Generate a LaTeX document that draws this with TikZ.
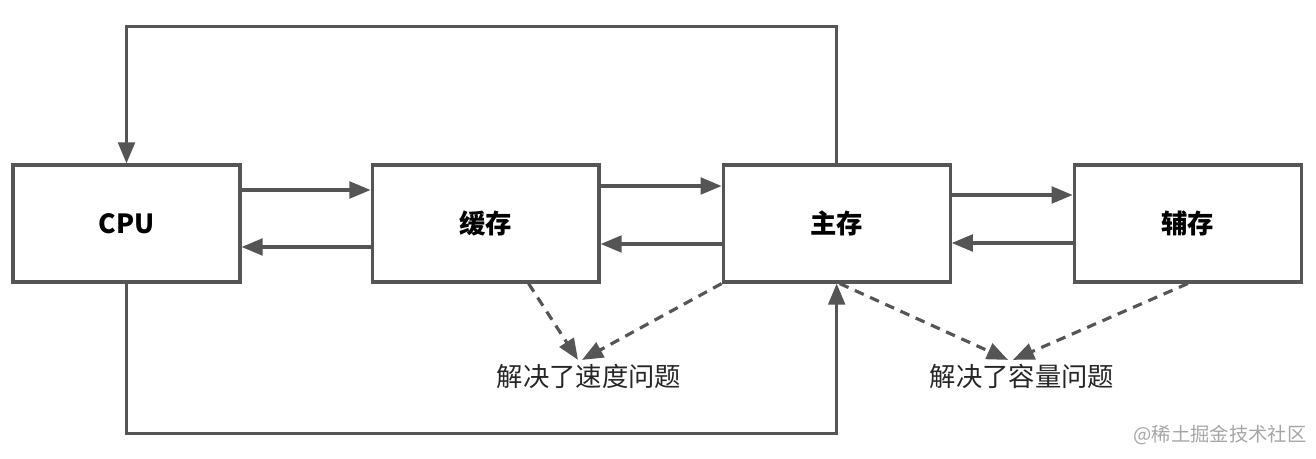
\documentclass[tikz,border=0pt]{standalone}
\usepackage{fontspec}
\setmainfont{Noto Sans CJK SC}
\usetikzlibrary{positioning,arrows.meta}
\definecolor{linegray}{HTML}{555555}

\begin{document}
\begin{tikzpicture}[
  x=0.02cm, y=-0.02cm,
  font=\fontsize{15}{18}\selectfont,
  node distance=2.42cm,
  mbox/.style={draw=linegray, line width=1.8pt, minimum width=4.54cm, minimum height=2.34cm, inner sep=0pt, font=\fontsize{15}{18}\selectfont\bfseries},
  marr/.style={-{Triangle[length=12pt,width=9.5pt]}, line width=1.8pt, draw=linegray},
  darr/.style={marr, dash pattern=on 5.5pt off 4pt},
  note/.style={inner sep=2pt, text=black!85}
]
  \useasboundingbox (0,0) rectangle (1316,459);

  \node[mbox] (cpu) at (126.5,223.5) {CPU};
  \node[mbox, right=2.58cm of cpu] (cache) {缓存};
  \node[mbox, right=of cache] (main) {主存};
  \node[mbox, right=of main] (aux) {辅存};

  \node[note] (speed) at (589,376) {解决了速度问题};
  \node[note] (size) at (1022,376) {解决了容量问题};

  % between the boxes
  \draw[marr] ([yshift=0.67cm]cpu.east) -- ([yshift=0.67cm]cache.west);
  \draw[marr] ([yshift=-0.47cm]cache.west) -- ([yshift=-0.47cm]cpu.east);
  \draw[marr] ([yshift=0.75cm]cache.east) -- ([yshift=0.75cm]main.west);
  \draw[marr] ([yshift=-0.41cm]main.west) -- ([yshift=-0.41cm]cache.east);
  \draw[marr] ([yshift=0.57cm]main.east) -- ([yshift=0.57cm]aux.west);
  \draw[marr] ([yshift=-0.39cm]aux.west) -- ([yshift=-0.39cm]main.east);

  % round the outside
  \draw[marr] (main.north) -- ++(0,-137) -| (cpu.north);
  \draw[marr] (cpu.south) -- ++(0,150) -| (main.south);

  % dashed notes
  \draw[darr] ([xshift=0.86cm]cache.south) -- ([xshift=-0.22cm]speed.north);
  \draw[darr] (main.south west) -- ([xshift=-0.14cm]speed.north);
  \draw[darr] ([xshift=0.06cm]main.south) -- ([xshift=-0.28cm]size.north);
  \draw[darr] (aux.south) -- ([xshift=-0.18cm]size.north);

  \node[text=black!35, font=\fontsize{11}{13}\selectfont] (mark) at (1220,435) {@稀土掘金技术社区};
\end{tikzpicture}
\end{document}
